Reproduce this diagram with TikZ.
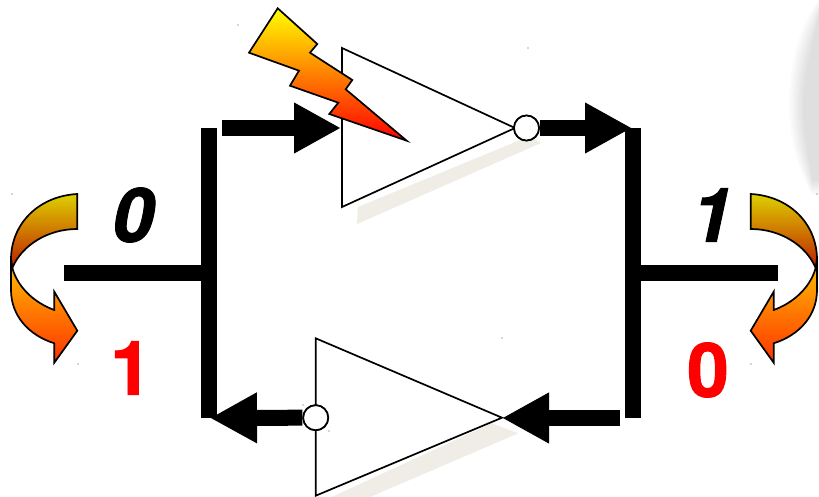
\documentclass[tikz,border=0pt]{standalone}
\usepackage{fontspec}
\setmainfont{TeX Gyre Heros}[BoldFeatures={FakeBold=1.2},BoldItalicFeatures={FakeBold=1.2}]
\usetikzlibrary{arrows.meta}
\definecolor{shadowc}{RGB}{240,237,230}
\definecolor{bigred}{RGB}{255,0,0}
\definecolor{olivey}{RGB}{222,208,0}
\definecolor{darkr}{RGB}{190,30,0}
\definecolor{ambery}{RGB}{255,195,0}
\definecolor{orangered}{RGB}{255,50,0}
\definecolor{midorange}{RGB}{255,130,0}
\tikzset{
  wire/.style={line width=16pt,black},
  bigarrow/.style={line width=16pt,black,-{Triangle[length=47pt,width=47.5pt]}},
  gate/.style={draw=black,line width=1.7pt,fill=white,line join=miter},
  bubble/.style={circle,draw=black,line width=1.7pt,fill=white,minimum size=25pt,inner sep=0pt},
  gateshadow/.style={fill=shadowc,draw=none},
  outline/.style={draw=black,line width=1.7pt,line join=miter},
  bitblack/.style={font=\fontsize{75}{75}\selectfont\bfseries\itshape,text=black,inner sep=0pt},
  bitred/.style={font=\fontsize{75}{75}\selectfont\bfseries,text=bigred,inner sep=0pt},
  speck/.style={fill=black!70,draw=none},
}
\newcommand{\swaparrow}{%
  \path[outline,top color=ambery,bottom color=orangered]
    (12.3,268) .. controls (18,288) and (35,303) .. (54.3,310) -- (54.3,291.7) -- (77.3,330.7)
    -- (54.3,362.7) -- (54.3,343.3) .. controls (28,335) and (11,315) .. (11,290) -- (11,258) -- cycle;
  \path[outline,top color=olivey,bottom color=darkr]
    (77.3,194) .. controls (40,196) and (12,222) .. (11,258) -- (12.3,268)
    .. controls (22,245) and (48,229) .. (77.3,229) -- cycle;
}
\begin{document}
\begin{tikzpicture}[x=1pt,y=-1pt]
\useasboundingbox (0,0) rectangle (819,497);
\fill[white] (0,0) rectangle (819,497);
% grey smudge on the right edge
\begin{scope}
\clip (0,0) rectangle (819,497);
\foreach \d in {0,2,...,14}{
  \fill[black,opacity=0.016]
    (819,{0+\d}) .. controls ({800+\d},{25+\d}) and ({789+\d},{60+\d}) .. ({789+\d},{105}) 
    .. controls ({789+\d},{140}) and ({797+\d},{165}) .. ({812},{195-\d}) -- (825,{195-\d}) -- (825,{0+\d}) -- cycle;
}
\end{scope}
% coordinates
\coordinate (lbt) at (209,128);
\coordinate (lbb) at (209,418);
\coordinate (rbt) at (633,128);
\coordinate (rbb) at (633,418);
\coordinate (lin) at (64,273);
\coordinate (lmid) at (209,273);
\coordinate (rout) at (778,273);
\coordinate (rmid) at (633,273);
\coordinate (topstart) at (222,128);
\coordinate (tipA) at (341,128);
\coordinate (tipB) at (632,128);
\coordinate (botstart) at (620,418);
\coordinate (tipC) at (502,418);
\coordinate (tipD) at (210,418);
% shadows
\fill[gateshadow] (358,207) -- (357,224) -- (541,143) -- (530,136) -- cycle;
\fill[gateshadow] (331.7,497) -- (370,497) -- (518.3,433.3) -- (491.7,423.3) -- cycle;
% gates
\draw[gate] (342,48) -- (515,128) -- (342,207) -- cycle;
\draw[gate] (315.7,338.3) -- (502,417.7) -- (315.7,495.7) -- cycle;
\node[bubble] (topbub) at (526.5,128) {};
\node[bubble] (botbub) at (315.7,417.7) {};
% wires
\draw[wire] (lbt) -- (lbb);
\draw[wire] (rbt) -- (rbb);
\draw[wire] (lin) -- (lmid);
\draw[wire] (rout) -- (rmid);
% arrows
\draw[bigarrow] (topstart) -- (tipA);
\draw[bigarrow] (topbub.east) -- (tipB);
\draw[bigarrow] (botstart) -- (tipC);
\draw[bigarrow] (botbub.west) -- (tipD);
\node[bubble] at (526.5,128) {};
\node[bubble] at (315.7,417.7) {};
% lightning
\path[draw=black,line width=1.7pt,line join=miter,top color=yellow,middle color=midorange,bottom color=red]
  (277.7,8.3) -- (317.3,44) -- (310,52.7) -- (352.3,80) -- (345.7,89.3) -- (406.7,140.7)
  -- (329.3,114) -- (338.3,102.7) -- (290,85.7) -- (299,70.7) -- (249,52.7) -- cycle;
% swap arrows
\swaparrow
\begin{scope}[xshift=828pt,xscale=-1]
\swaparrow
\end{scope}
% labels
\node[bitblack] (zero) at (133,215) {0};
\node[bitblack] (one) at (712,215) {1};
\node[bitred] (rone) at (131,368) {1};
\node[bitred] (rzero) at (708,370) {0};
% specks
\foreach \p in {(12,194),(78,364),(238,25),(528,48),(502,338),(817,194),(751,364),(303,405),(329,431)}
  \fill[speck] \p circle (0.7pt);
\end{tikzpicture}
\end{document}
